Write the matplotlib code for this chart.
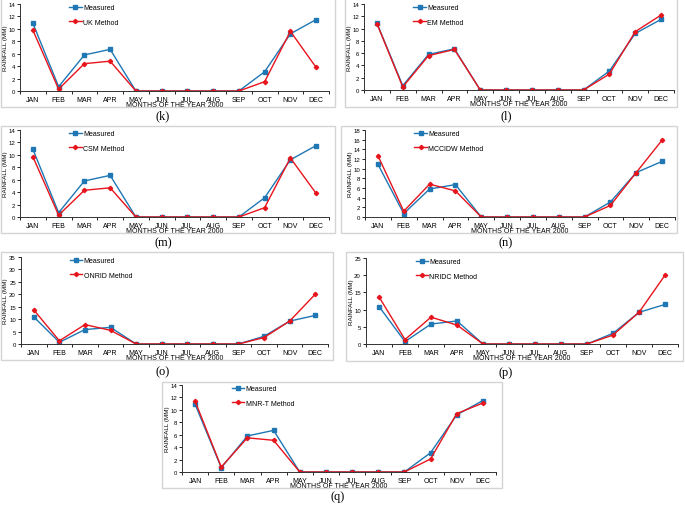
import matplotlib.pyplot as plt
from matplotlib.patches import Rectangle

months = ["JAN", "FEB", "MAR", "APR", "MAY", "JUN", "JUL", "AUG", "SEP", "OCT", "NOV", "DEC"]
measured = [10.9, 0.7, 5.8, 6.7, 0, 0, 0, 0, 0, 3.1, 9.2, 11.5]

uk = [9.8, 0.3, 4.4, 4.8, 0, 0, 0, 0, 0, 1.5, 9.6, 3.8]
em = [10.8, 0.5, 5.6, 6.6, 0, 0, 0, 0, 0, 2.6, 9.5, 12.2]
csm = [9.7, 0.3, 4.3, 4.7, 0, 0, 0, 0, 0, 1.5, 9.5, 3.8]
mccidw = [12.7, 1.2, 6.8, 5.4, 0, 0, 0, 0, 0, 2.4, 9.2, 15.9]
onrid = [13.7, 1.3, 7.8, 5.5, 0, 0, 0, 0, 0, 2.6, 9.2, 20.0]
nridc = [13.7, 1.3, 7.8, 5.5, 0, 0, 0, 0, 0, 2.6, 9.2, 20.0]
mnrt = [11.4, 0.8, 5.5, 5.1, 0, 0, 0, 0, 0, 2.1, 9.4, 11.1]

W, H = 685, 506
fig = plt.figure(figsize=(W / 100, H / 100), dpi=100)
plt.rcParams['font.family'] = ['Liberation Sans', 'DejaVu Sans']


def px_rect(x0, y0, x1, y1):
    return [x0 / W, 1 - y1 / H, (x1 - x0) / W, (y1 - y0) / H]


def panel(axbox, frame, ylab_x, label, labelpos, method, name, ymax, ystep):
    fx0, fy0, fx1, fy1 = frame
    fig.patches.append(Rectangle((fx0 / W, 1 - fy1 / H), (fx1 - fx0) / W, (fy1 - fy0) / H,
                                 transform=fig.transFigure, fill=False,
                                 edgecolor="#d4d4d4", linewidth=1.0))
    ax = fig.add_axes(px_rect(*axbox))
    x = range(len(months))
    ax.plot(x, measured, color="#1f77b4", marker="s", markersize=2.6, linewidth=1.0, label="Measured")
    ax.plot(x, method, color="#e8141c", marker="D", markersize=2.2, linewidth=1.0, label=name + " Method")
    ax.set_xlim(-0.5, 11.5)
    ax.set_ylim(0, ymax)
    ax.set_yticks(range(0, ymax + 1, ystep))
    ax.set_xticks(list(x))
    ax.set_xticklabels(months)
    ax.set_xticks([i + 0.5 for i in range(-1, 12)], minor=True)
    ax.tick_params(axis="x", which="major", length=0, labelsize=5, pad=3.5)
    ax.tick_params(axis="x", which="minor", length=2.5, width=0.6, direction="out")
    ax.tick_params(axis="y", labelsize=4.3, length=2.5, width=0.6, pad=1.2)
    for s in ["top", "right"]:
        ax.spines[s].set_visible(False)
    for s in ["left", "bottom"]:
        ax.spines[s].set_linewidth(0.7)
        ax.spines[s].set_color("#333333")
    ax.set_xlabel("MONTHS OF THE YEAR 2000", fontsize=5, labelpad=-1)
    ax.set_ylabel("RAINFALL (MM)", fontsize=4.5)
    ax.yaxis.set_label_coords((ylab_x - axbox[0]) / (axbox[2] - axbox[0]), 0.5)
    ax.legend(loc="upper left", bbox_to_anchor=(0.15, 1.03), frameon=False, fontsize=5,
              handlelength=1.8, labelspacing=1.1, handletextpad=0.2, borderaxespad=0)
    fig.text(labelpos[0] / W, 1 - labelpos[1] / H, label, ha="center", va="center",
             fontsize=9, family="Liberation Serif")


panel((20, 5, 329, 92), (1, -1, 335, 108), 8, "(k)", (163, 116), uk, "UK", 14, 2)
panel((364, 5, 674, 91), (345, -1, 677, 108), 352, "(l)", (506, 116), em, "EM", 14, 2)
panel((20, 131, 329, 218), (1, 127, 335, 234), 8, "(m)", (163, 243), csm, "CSM", 14, 2)
panel((365, 131, 675, 218), (341, 127, 677, 234), 353, "(n)", (506, 243), mccidw, "MCCIDW", 18, 2)
panel((21, 258, 328, 345), (1, 253, 333, 361), 8, "(o)", (163, 372), onrid, "ONRID", 35, 5)
panel((366, 259, 678, 345), (346, 253, 683, 362), 354, "(p)", (506, 373), nridc, "NRIDC", 25, 5)
panel((182, 386, 496, 473), (162, 383, 502, 489), 170, "(q)", (338, 497), mnrt, "MNR-T", 14, 2)

fig.savefig("out.png", dpi=100)
